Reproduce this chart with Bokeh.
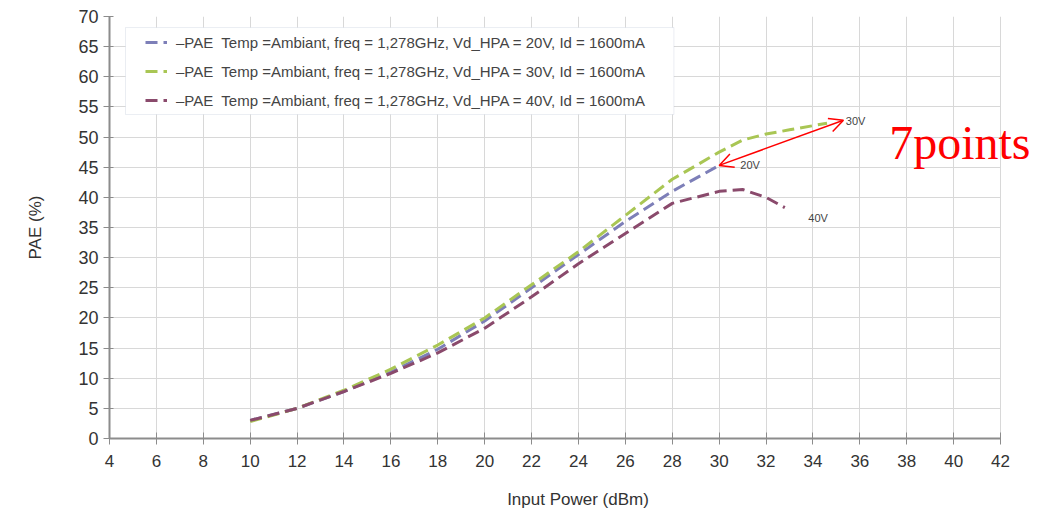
from bokeh.plotting import figure
from bokeh.models import (Legend, LegendItem, Label, Arrow, OpenHead, FixedTicker,
                          Range1d, BoxAnnotation)
from bokeh.embed import file_html
from bokeh.resources import INLINE

# ---- data ----
x_20v = [10, 12, 14, 16, 18, 20, 22, 24, 26, 28, 30]
y_20v = [3.0, 5.0, 7.8, 11.0, 14.8, 19.5, 25.0, 30.5, 36.0, 41.0, 45.3]

x_30v = [10, 12, 14, 16, 18, 20, 22, 24, 26, 28, 30, 31, 32, 33, 34.6]
y_30v = [2.8, 5.0, 8.0, 11.5, 15.5, 20.0, 25.5, 31.0, 37.0, 43.0, 47.5, 49.5, 50.5, 51.2, 52.3]

x_40v = [10, 12, 14, 16, 18, 20, 22, 24, 26, 28, 30, 31, 32, 32.8]
y_40v = [3.0, 5.0, 7.8, 10.8, 14.2, 18.3, 23.5, 29.0, 34.0, 39.0, 41.0, 41.3, 40.0, 38.3]

x_ticks = list(range(4, 43, 2))
y_ticks = list(range(0, 71, 5))

legend_labels = [
    "\u2013PAE  Temp =Ambiant, freq = 1,278GHz, Vd_HPA = 20V, Id = 1600mA",
    "\u2013PAE  Temp =Ambiant, freq = 1,278GHz, Vd_HPA = 30V, Id = 1600mA",
    "\u2013PAE  Temp =Ambiant, freq = 1,278GHz, Vd_HPA = 40V, Id = 1600mA",
]
colors = ["#7d7fb8", "#a9c654", "#8a4a6c"]

# frame extends to the window's right edge so the "7points" note is not clipped;
# the axis and grid are bounded to 4..42
p = figure(width=1046, height=516, output_backend="svg", toolbar_location=None,
           x_range=Range1d(4, 43.96), y_range=Range1d(0, 70),
           min_border_left=109, min_border_right=0, min_border_top=16,
           min_border_bottom=78)
p.outline_line_color = None
p.background_fill_color = "white"
p.border_fill_color = "white"

p.xaxis.ticker = FixedTicker(ticks=x_ticks)
p.yaxis.ticker = FixedTicker(ticks=y_ticks)
p.xaxis.bounds = (4, 42)
p.xgrid.ticker = FixedTicker(ticks=x_ticks)
p.ygrid.ticker = FixedTicker(ticks=y_ticks)
p.ygrid.cross_bounds = (4, 42)
p.grid.grid_line_color = "#d8d8d8"
p.grid.grid_line_width = 1

for ax in (p.xaxis, p.yaxis):
    ax.axis_line_color = "#8c8c8c"
    ax.axis_line_width = 2
    ax.major_tick_line_color = "#8c8c8c"
    ax.minor_tick_line_color = None
    ax.major_label_text_color = "#333333"
    ax.major_label_text_font = "Liberation Sans"

p.xaxis.major_tick_in = 6
p.xaxis.major_tick_out = 6
p.yaxis.major_tick_in = 4
p.yaxis.major_tick_out = 6
p.xaxis.major_label_standoff = 10
p.xaxis.major_label_text_font_size = "17px"
p.yaxis.major_label_text_font_size = "18px"
p.xaxis.axis_label = "Input Power (dBm)"
p.yaxis.axis_label = "PAE (%)"
for ax in (p.xaxis, p.yaxis):
    ax.axis_label_text_font = "Liberation Sans"
    ax.axis_label_text_font_style = "normal"
    ax.axis_label_text_font_size = "17px"
    ax.axis_label_text_color = "#333333"
p.xaxis.axis_label_standoff = 20
p.yaxis.axis_label_standoff = 30

dash = "12 6"
r20 = p.line(x_20v, y_20v, line_color=colors[0], line_width=3, line_dash=dash)
r30 = p.line(x_30v, y_30v, line_color=colors[1], line_width=3, line_dash=dash)
r40 = p.line(x_40v, y_40v, line_color=colors[2], line_width=3, line_dash=dash)

# legend frame (drawn separately so that the entries can sit further inside)
p.add_layout(BoxAnnotation(left=4.683, right=28.07, top=68.17, bottom=53.74,
                           fill_color="white", fill_alpha=1,
                           line_color="#b8c4d4", line_width=1))

legend = Legend(items=[LegendItem(label=legend_labels[0], renderers=[r20]),
                       LegendItem(label=legend_labels[1], renderers=[r30]),
                       LegendItem(label=legend_labels[2], renderers=[r40])],
                location=(36, 328))
legend.label_text_font = "Liberation Sans"
legend.label_text_font_size = "15px"
legend.label_text_color = "#444444"
legend.glyph_width = 22
legend.glyph_height = 20
legend.label_height = 20
legend.spacing = 9
legend.padding = 5
legend.margin = 0
legend.border_line_color = None
legend.background_fill_alpha = 0
legend.label_standoff = 9
p.add_layout(legend, "center")

# curve labels
for txt, xx, yy in [("30V", 35.4, 52.7), ("20V", 30.9, 45.3), ("40V", 33.8, 36.5)]:
    p.add_layout(Label(x=xx, y=yy, text=txt, text_font="Liberation Sans",
                       text_font_size="11px", text_color="#444444",
                       text_baseline="middle"))

# red annotation
p.add_layout(Arrow(x_start=30.0, y_start=45.3, x_end=35.3, y_end=52.8,
                   line_color="red", line_width=1.5,
                   start=OpenHead(size=14, line_color="red", line_width=1.5),
                   end=OpenHead(size=14, line_color="red", line_width=1.5)))
p.add_layout(Label(x=37.25, y=49.1, text="7points", text_font="Liberation Serif",
                   text_font_size="48px", text_color="red",
                   text_baseline="alphabetic"))

open("out.html", "w").write(file_html(p, INLINE))
